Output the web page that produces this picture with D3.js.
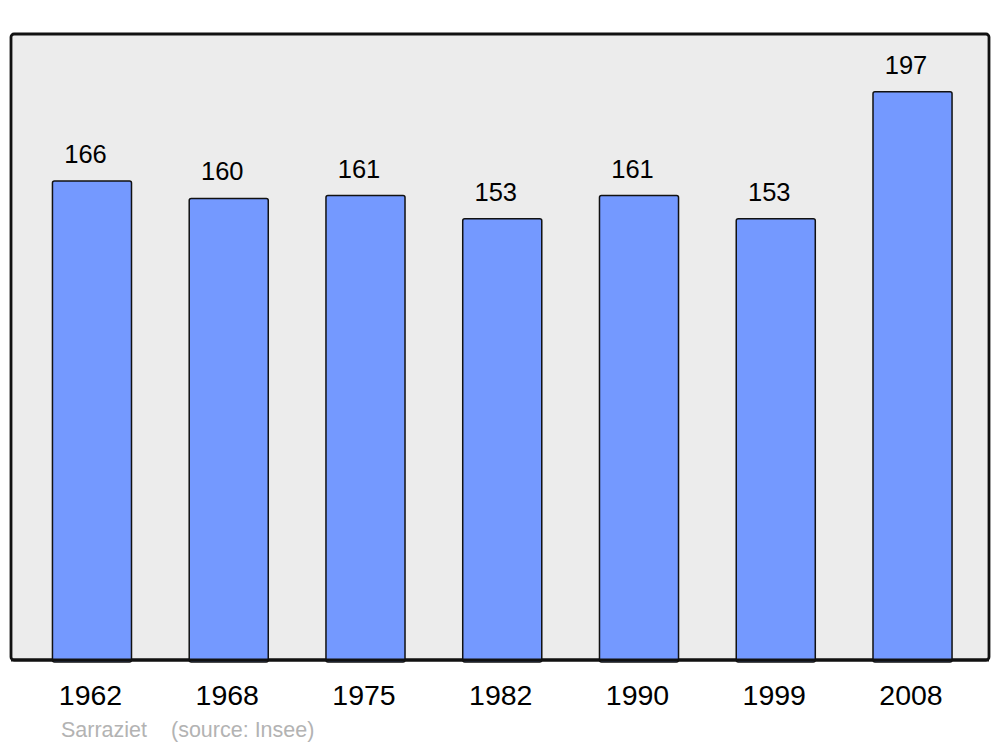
<!DOCTYPE html>
<html><head><meta charset="utf-8">
<script src="https://cdn.jsdelivr.net/npm/d3@7"></script>
<style>body{margin:0;background:#fff}svg{display:block}</style>
</head><body>
<script>
const years = ["1962","1968","1975","1982","1990","1999","2008"];
const population = [166,160,161,153,161,153,197];
const sourceLabel = ["Sarraziet", "(source: Insee)"];

const W = 1000, H = 747;
const svg = d3.select("body").append("svg").attr("width", W).attr("height", H);
const font = "'Liberation Sans', Arial, sans-serif";

const panel = {x0: 11, x1: 989, y0: 34, y1: 660};
svg.append("rect").attr("x", panel.x0).attr("y", panel.y0)
  .attr("width", panel.x1 - panel.x0).attr("height", panel.y1 - panel.y0)
  .attr("rx", 3).attr("fill", "#ececec").attr("stroke", "#111").attr("stroke-width", 2.8);

const x = d3.scaleBand().domain(years).range([23.6, 980.9]).paddingInner(0.422).paddingOuter(0.211);
const y = d3.scaleLinear().domain([0, 217]).range([panel.y1, panel.y0]);

const data = years.map((yr, i) => ({yr, v: population[i]}));

svg.append("g").selectAll("rect").data(data).join("rect")
  .attr("x", d => x(d.yr)).attr("y", d => y(d.v))
  .attr("width", x.bandwidth()).attr("height", d => y(0) - y(d.v) + 2)
  .attr("rx", 2).attr("fill", "#7499ff").attr("stroke", "#111").attr("stroke-width", 1.5);

// redraw bottom border over the bars
svg.append("line").attr("x1", panel.x0).attr("x2", panel.x1).attr("y1", panel.y1).attr("y2", panel.y1)
  .attr("stroke", "#111").attr("stroke-width", 2.8);

svg.append("g").selectAll("text").data(data).join("text")
  .attr("x", d => x(d.yr) + x.bandwidth() / 2 - 6.5).attr("y", d => y(d.v) - 18)
  .attr("text-anchor", "middle").attr("font-family", font).attr("font-size", 25.5)
  .attr("fill", "#000").text(d => d.v);

const xAxis = d3.axisBottom(x).tickSize(0).tickPadding(0);
const ax = svg.append("g").attr("transform", `translate(-1.5, ${panel.y1})`).call(xAxis);
ax.select(".domain").remove();
ax.selectAll("text").attr("font-family", font).attr("font-size", 28.5).attr("fill", "#000")
  .attr("dy", null).attr("y", 45);

svg.append("text").attr("x", 61).attr("y", 737).attr("font-family", font).attr("font-size", 21.5)
  .attr("fill", "#b3b3b3").text(sourceLabel[0]);
svg.append("text").attr("x", 171).attr("y", 737).attr("font-family", font).attr("font-size", 21.5)
  .attr("fill", "#b3b3b3").text(sourceLabel[1]);
</script>
</body></html>
